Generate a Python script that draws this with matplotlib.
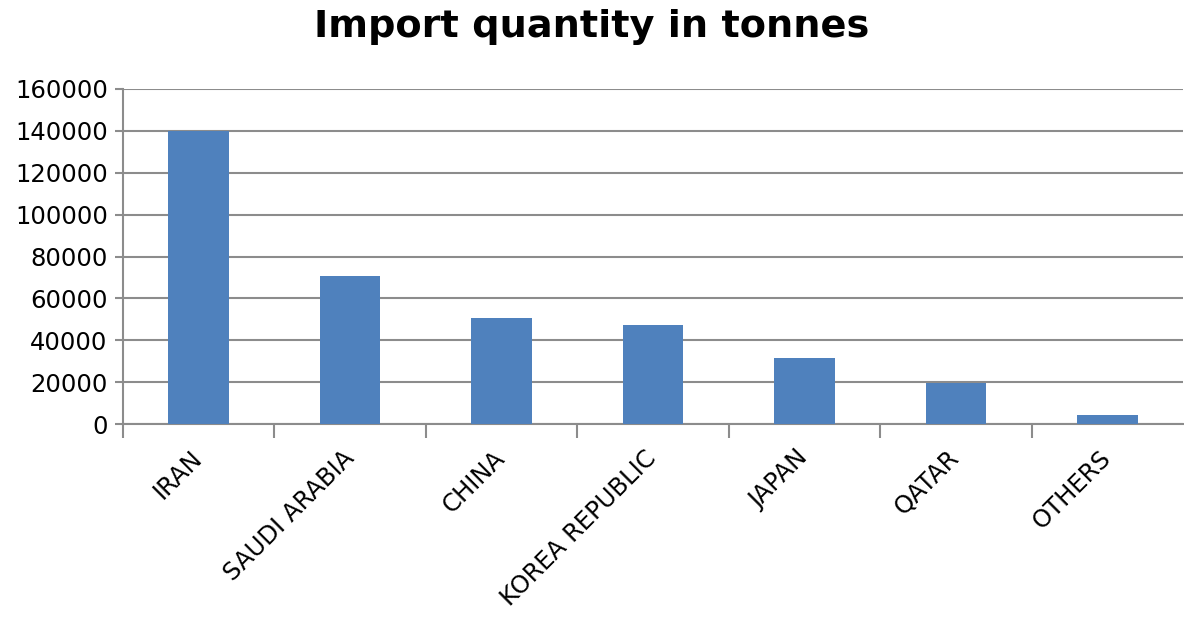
import matplotlib
matplotlib.use("Agg")
import matplotlib.pyplot as plt
import numpy as np

categories = ["IRAN", "SAUDI ARABIA", "CHINA", "KOREA REPUBLIC", "JAPAN", "QATAR", "OTHERS"]
values = [140000, 70600, 50500, 47200, 31600, 19800, 4100]
yticks = [0, 20000, 40000, 60000, 80000, 100000, 120000, 140000, 160000]

fig = plt.figure(figsize=(11.84, 6.2), dpi=100)
ax = fig.add_axes([123/1184, 1-424/620, 1060/1184, 335/620])

x = np.arange(len(categories))
ax.bar(x, values, width=0.4, color="#4F81BD", zorder=3)
ax.set_xlim(-0.5, len(categories) - 0.5)
ax.set_ylim(0, 160000)
ax.set_yticks(yticks)
ax.set_yticklabels([str(v) for v in yticks], fontsize=17.5)
ax.yaxis.grid(True, color="#8c8c8c", linewidth=1.5, zorder=0)
ax.set_axisbelow(True)

ax.set_xticks(x)
ax.set_xticklabels(categories, rotation=45, ha="right", va="center",
                   rotation_mode="anchor", fontsize=17.5)
ax.tick_params(axis="x", length=0, pad=22)
ax.set_xticks(np.arange(-0.5, len(categories) - 1, 1), minor=True)
ax.tick_params(axis="x", which="minor", length=10, width=1.5, color="#8c8c8c")
ax.tick_params(axis="y", length=6, width=1.5, color="#8c8c8c", pad=5)

for s in ["top", "right"]:
    ax.spines[s].set_visible(False)
for s in ["left", "bottom"]:
    ax.spines[s].set_color("#8c8c8c")
    ax.spines[s].set_linewidth(1.5)

fig.text(0.5, 1-27/620, "Import quantity in tonnes", ha="center", va="center",
         fontsize=27.5, fontweight="bold")

fig.savefig("out.png", dpi=100)
